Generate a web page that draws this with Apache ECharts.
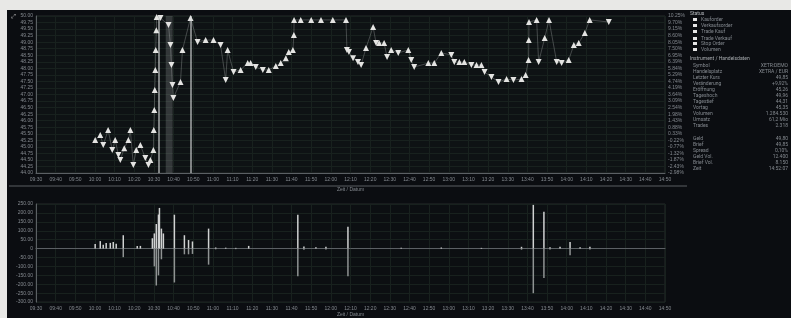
<!DOCTYPE html>
<html>
<head>
<meta charset="utf-8">
<script src="https://cdn.jsdelivr.net/npm/echarts@6/dist/echarts.min.js"></script>
<style>
html, body { margin: 0; padding: 0; background: #e8e8e6; }
#screen { position: absolute; left: 7px; top: 10px; width: 784px; height: 308px; background: #0b0d11; }
#chart { width: 784px; height: 308px; }
</style>
</head>
<body>
<div id="screen"><div id="chart"></div></div>
<script>
// trade markers: minutes since open, price
const tradeMinute = [30.1, 32.7, 34.2, 36.7, 38.8, 40.3, 41.9, 42.9, 44.9, 47.0, 48.0, 49.5, 51.0, 53.1, 55.6, 57.2, 58.2,
    59.7, 59.9, 60.2, 60.4, 60.7, 60.9, 61.2, 61.4, 63.3, 67.4, 68.4, 68.9, 69.4, 69.9, 73.5, 74.5, 78.6,
    82.2, 86.3, 90.3, 93.9, 96.5, 97.5, 100.5, 104.1, 107.7, 109.2, 111.8, 115.4, 118.4, 122.0, 124.5, 127.1, 128.6, 130.7,
    131.2, 131.3, 134.7, 140.0, 145.0, 151.0, 157.7, 158.2, 159.2, 161.3, 163.8, 165.4, 167.9, 171.5, 173.0, 174.6, 177.1,
    178.6, 180.7, 184.3, 189.4, 190.9, 192.4, 199.6, 202.6, 206.2, 211.3, 212.8, 215.4, 217.9, 221.5, 224.1, 226.6, 228.2,
    231.7, 235.3, 239.4, 242.9, 247.0, 249.1, 250.6, 250.7, 250.8, 254.7, 255.7, 258.8, 261.0, 264.9, 267.4, 271.0, 273.6,
    276.1, 279.2, 281.7, 291.4];
const tradePrice = [45.26, 45.45, 45.07, 45.64, 44.88, 45.26, 44.69, 44.50, 44.95, 45.26, 45.64, 44.31, 44.88, 45.07, 44.57, 44.31, 44.50,
    44.88, 45.64, 46.41, 47.17, 47.94, 48.70, 49.46, 49.96, 49.92, 49.66, 48.89, 48.13, 47.36, 46.87, 47.48, 48.70, 49.92,
    49.01, 49.08, 49.08, 48.89, 47.55, 48.70, 47.86, 47.94, 48.20, 48.20, 48.05, 47.94, 47.94, 48.09, 48.20, 48.39, 48.62, 48.70,
    49.27, 49.85, 49.85, 49.85, 49.85, 49.85, 49.85, 48.70, 48.62, 48.39, 48.24, 48.13, 48.78, 49.58, 48.97, 48.97, 48.97,
    48.43, 48.70, 48.59, 48.70, 48.32, 48.05, 48.20, 48.20, 48.59, 48.51, 48.24, 48.24, 48.24, 48.13, 48.13, 48.13, 47.86,
    47.67, 47.48, 47.59, 47.55, 47.59, 47.75, 48.32, 49.08, 49.77, 49.85, 48.24, 49.16, 49.85, 48.24, 48.20, 48.32, 48.89,
    48.97, 49.35, 49.85, 49.77];

// lower panel: order flow per minute (buy above, sell below zero)
const flowMinute = [30.1, 32.7, 34.2, 35.7, 37.8, 39.3, 40.8, 44.4, 51.5, 53.1, 59.2, 60.2, 61.2, 62.3, 62.8, 63.8, 64.8, 70.4,
    75.5, 77.6, 79.6, 87.8, 91.4, 96.5, 101.6, 108.2, 133.2, 136.3, 142.4, 147.5, 158.7, 185.8, 206.2, 226.6, 247.0,
    253.0, 258.4, 261.5, 266.6, 271.7, 276.8, 281.8];
const flowBuy = [26, 42, 21, 32, 32, 37, 27, 75, 15, 15, 58, 85, 138, 191, 228, 112, 85, 190,
    75, 48, 40, 112, 6, 5, 4, 15, 190, 12, 8, 10, 122, 5, 6, 4, 10,
    245, 207, 8, 10, 37, 8, 10];
const flowSell = [0, 0, 0, 0, 0, 0, 0, -48, 0, 0, 0, -100, -207, -150, 0, -60, 0, -190,
    -32, -32, -30, -90, -4, 0, -3, 0, -155, -6, 0, -5, -155, 0, 0, 0, -6,
    -250, -165, -5, 0, -37, 0, -5];

const timeLabels = ['09:30', '09:40', '09:50', '10:00', '10:10', '10:20', '10:30', '10:40', '10:50', '11:00', '11:10',
    '11:20', '11:30', '11:40', '11:50', '12:00', '12:10', '12:20', '12:30', '12:40', '12:50', '13:00', '13:10',
    '13:20', '13:30', '13:40', '13:50', '14:00', '14:10', '14:20', '14:30', '14:40', '14:50'];

const prevClose = 45.35;
const markTimes = [62.3, 78.6];

const statusItems = ['Kauforder', 'Verkaufsorder', 'Trade Kauf', 'Trade Verkauf', 'Stop Order', 'Volumen'];
const infoTitle = 'Instrument / Handelsdaten';
const infoRows = [
    ['Symbol', 'XETR:DEMO'], ['Handelsplatz', 'XETRA / EUR'], ['Letzter Kurs', '49,85'], ['Veränderung', '+9,92%'],
    ['Eröffnung', '45,26'], ['Tageshoch', '49,96'], ['Tagestief', '44,31'], ['Vortag', '45,35'],
    ['Volumen', '1.284.530'], ['Umsatz', '61,2 Mio'], ['Trades', '2.318']
];
const infoRows2 = [
    ['Geld', '49,80'], ['Brief', '49,85'], ['Spread', '0,10%'], ['Geld Vol.', '12.400'], ['Brief Vol.', '8.150'], ['Zeit', '14:52:07']
];

const txt = '#858a90';
const split = '#18211e';

function fmtTime(v) {
    const i = Math.round(v / 10);
    return timeLabels[i] || '';
}

const panelGraphics = [];
panelGraphics.push({ type: 'text', left: 683, top: 1, style: { text: 'Status', fill: '#b8bcc0', font: '5px Roboto' } });
statusItems.forEach((s, i) => {
    const y = [8, 14, 20, 27, 32, 38][i];
    panelGraphics.push({ type: 'rect', shape: { x: 686, y: y, width: 4, height: 3 }, style: { fill: '#e6e6e6' } });
    panelGraphics.push({ type: 'text', left: 694, top: y - 1, style: { text: s, fill: txt, font: '5px Roboto' } });
});
panelGraphics.push({ type: 'text', left: 683, top: 46, style: { text: infoTitle, fill: '#a8acb0', font: '5px Roboto' } });
infoRows.forEach((r, i) => {
    panelGraphics.push({ type: 'text', left: 686, top: 53 + i * 6, style: { text: r[0], fill: txt, font: '5px Roboto' } });
    panelGraphics.push({ type: 'text', right: 3, top: 53 + i * 6, style: { text: r[1], fill: txt, font: '5px Roboto', align: 'right' } });
});
infoRows2.forEach((r, i) => {
    panelGraphics.push({ type: 'text', left: 686, top: 126 + i * 6, style: { text: r[0], fill: txt, font: '5px Roboto' } });
    panelGraphics.push({ type: 'text', right: 3, top: 126 + i * 6, style: { text: r[1], fill: txt, font: '5px Roboto', align: 'right' } });
});
// divider between the two panes
panelGraphics.push({ type: 'line', shape: { x1: 2, y1: 176, x2: 680, y2: 176 }, style: { stroke: '#5a5f63', lineWidth: 1 } });
panelGraphics.push({ type: 'text', left: 4, top: 3, style: { text: '⤢', fill: '#c8c8c8', font: '6px DejaVu Sans' } });

const chart = echarts.init(document.getElementById('chart'));

const xBase = {
    type: 'value', min: 0, max: 320, interval: 10,
    axisLine: { lineStyle: { color: '#5b6064' } },
    axisTick: { show: false },
    axisLabel: { color: txt, fontSize: 5, margin: 4, formatter: fmtTime },
    splitLine: { show: true, lineStyle: { color: split, width: 1 } },
    nameLocation: 'middle', nameTextStyle: { color: txt, fontSize: 5 }
};

chart.setOption({
    backgroundColor: 'transparent',
    animation: false,
    grid: [
        { left: 29, right: 126, top: 6, height: 157, show: true, backgroundColor: '#0e1214', borderColor: '#262b2b' },
        { left: 29, right: 126, top: 194, height: 103, show: true, backgroundColor: '#0c0f12', borderColor: '#262b2b' }
    ],
    xAxis: [
        Object.assign({}, xBase, { gridIndex: 0, name: 'Zeit / Datum', nameGap: 10 }),
        Object.assign({}, xBase, { gridIndex: 1, name: 'Zeit / Datum', nameGap: 9 })
    ],
    yAxis: [
        {
            type: 'value', gridIndex: 0, min: 44, max: 50, interval: 0.25,
            axisLine: { show: true, lineStyle: { color: '#5b6064' } }, axisTick: { show: false },
            axisLabel: { color: txt, fontSize: 5, margin: 3, formatter: v => v.toFixed(2) },
            splitLine: { lineStyle: { color: split } }
        },
        {
            type: 'value', gridIndex: 0, position: 'right', min: 44, max: 50, interval: 0.25,
            axisLine: { show: false }, axisTick: { show: false },
            axisLabel: { color: txt, fontSize: 5, margin: 3, formatter: v => ((v / prevClose - 1) * 100).toFixed(2) + '%' },
            splitLine: { show: false }
        },
        {
            type: 'value', gridIndex: 1, min: -300, max: 250, interval: 50,
            axisLine: { show: true, lineStyle: { color: '#5b6064' } }, axisTick: { show: false },
            axisLabel: { color: txt, fontSize: 5, margin: 3, formatter: v => v === 0 ? '0' : v.toFixed(2) },
            splitLine: { lineStyle: { color: split } }
        }
    ],
    graphic: panelGraphics,
    series: [
        {
            type: 'line', xAxisIndex: 0, yAxisIndex: 0,
            data: tradeMinute.map((m, i) => [m, tradePrice[i]]),
            symbol: 'triangle', symbolSize: 6,
            symbolRotate: (v, p) => (p.dataIndex > 0 && tradePrice[p.dataIndex] < tradePrice[p.dataIndex - 1]) ? 180 : 0,
            itemStyle: { color: '#e4e4e2' },
            lineStyle: { color: '#bfc3c3', width: 1, opacity: 0.3 },
            markLine: {
                symbol: 'none', silent: true, label: { show: false },
                lineStyle: { color: '#d8dcdc', type: 'solid', width: 1.5, opacity: 0.75 },
                data: markTimes.map(t => ({ xAxis: t }))
            },
            markArea: {
                silent: true, itemStyle: { color: 'rgba(200,205,205,0.2)' },
                data: [[{ xAxis: 66 }, { xAxis: 69.5 }]]
            }
        },
        {
            type: 'bar', xAxisIndex: 1, yAxisIndex: 2, stack: 'flow', barWidth: 1.5,
            data: flowMinute.map((m, i) => [m, flowBuy[i]]),
            itemStyle: { color: '#d0d2d2' }
        },
        {
            type: 'bar', xAxisIndex: 1, yAxisIndex: 2, stack: 'flow', barWidth: 1.5,
            data: flowMinute.map((m, i) => [m, flowSell[i]]),
            itemStyle: { color: '#8f9393' }
        }
    ]
});
</script>
</body>
</html>
